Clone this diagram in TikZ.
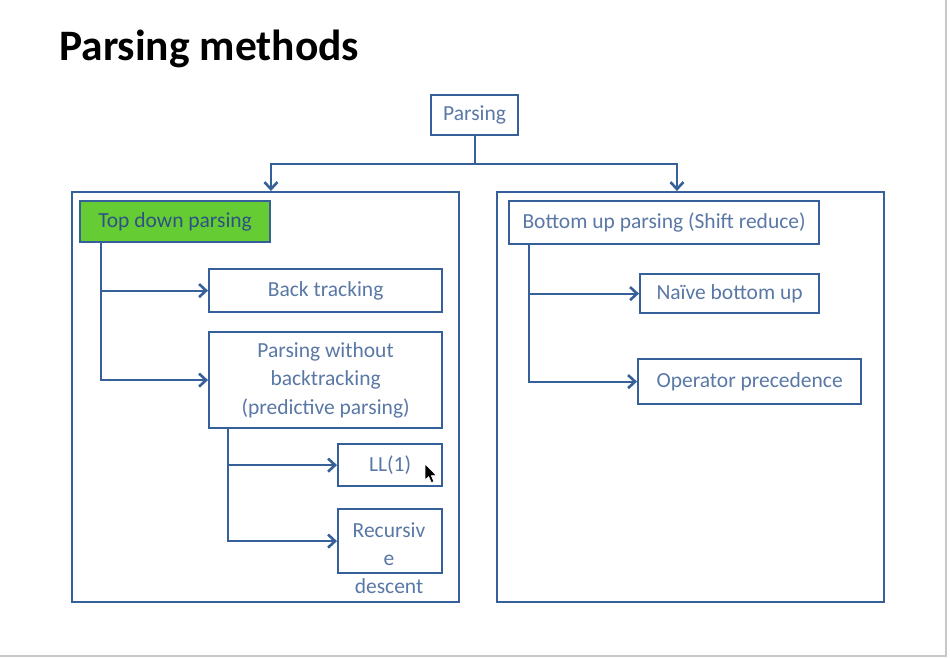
\documentclass[tikz,border=0pt]{standalone}
\usepackage{fontspec}
\setmainfont{Carlito}
\usetikzlibrary{arrows.meta}
\definecolor{edge}{HTML}{36609A}
\definecolor{txt}{HTML}{5A78A6}
\definecolor{leaf}{HTML}{66CC33}
\definecolor{slideframe}{HTML}{C8C8C8}
\begin{document}
\begin{tikzpicture}[x=1pt,y=-1pt,
  frame/.style={draw=edge, line width=1.9pt, anchor=north west, inner sep=0pt},
  box/.style={draw=edge, line width=2.2pt, text=txt, font=\fontsize{21.5}{28.5}\selectfont,
    inner sep=2pt, align=center, anchor=north west},
  conn/.style={draw=edge, line width=2.2pt},
  arr/.style={conn, -{Straight Barb[length=7pt,width=13pt,line width=2.6pt]}},
]
% page area and slide edge
\useasboundingbox (0,0) rectangle (950,658);
\fill[white] (0,0) rectangle (950,658);
\draw[slideframe, line width=1.5pt] (946,0) -- (946,656) -- (0,656);

% title
\node[anchor=base west, inner sep=0pt, font=\fontsize{43.5}{52}\selectfont\bfseries] (title) at (59,61) {Parsing methods};

% root
\node[box, minimum width=87pt, minimum height=40pt] (root) at (430,94) {Parsing};

% the two groups
\node[frame, minimum width=387pt, minimum height=410pt] (leftf) at (71,191) {};
\node[frame, minimum width=387pt, minimum height=410pt] (rightf) at (496,191) {};

% top down branch
\node[box, fill=leaf, text=edge!85!black, minimum width=190pt, minimum height=41pt] (td) at (79,200) {Top down parsing};
\node[box, minimum width=233pt, minimum height=43pt] (bt) at (208,268) {Back tracking};
\node[box, minimum width=233pt, minimum height=96pt] (pwb) at (208,331)
  {Parsing without\\backtracking\\(predictive parsing)};
\node[box, minimum width=104pt, minimum height=42pt] (ll) at (337,443) {LL(1)};
\node[box, minimum width=104pt, minimum height=64pt] (rd) at (337,508) {};
\node[text=txt, font=\fontsize{21.5}{28}\selectfont, align=center, anchor=north, inner sep=0pt] (rdtext) at (389,523) {Recursiv\\e\\descent};

% bottom up branch
\node[box, minimum width=310pt, minimum height=43pt] (bu) at (508,200) {Bottom up parsing (Shift reduce)};
\node[box, minimum width=179pt, minimum height=39pt] (nb) at (639,273) {Naïve bottom up};
\node[box, minimum width=223pt, minimum height=45pt] (op) at (637,358) {Operator precedence};

% connectors
\draw[arr] (root.south) -- ++(0,28) -| ([xshift=5.5pt]leftf.north);
\draw[arr] (root.south) -- ++(0,28) -| ([xshift=-13.5pt]rightf.north);

\draw[arr] ([xshift=22pt]td.south west) |- (bt.west);
\draw[arr] ([xshift=22pt]td.south west) |- (pwb.west);

\draw[arr] ([xshift=20pt]pwb.south west) |- (ll.west);
\draw[arr] ([xshift=20pt]pwb.south west) |- (rd.west);

\draw[arr] ([xshift=21pt]bu.south west) |- (nb.west);
\draw[arr] ([xshift=21pt]bu.south west) |- (op.west);

% mouse pointer
\filldraw[fill=black, draw=white, line width=0.6pt]
  (425,464) -- (425,480) -- (428.7,476.6) -- (431.3,482.6) -- (433.8,481.5) -- (431.3,475.6) -- (436.5,475.6) -- cycle;
\end{tikzpicture}
\end{document}
